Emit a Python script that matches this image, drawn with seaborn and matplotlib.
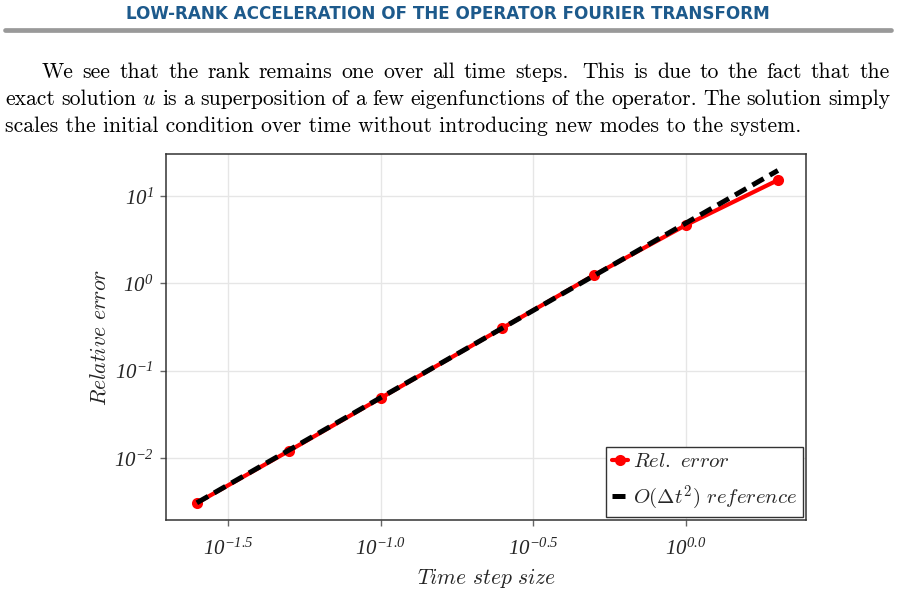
import matplotlib
matplotlib.use('Agg')
import matplotlib.pyplot as plt
import seaborn as sns
import pandas as pd
import numpy as np
from matplotlib.lines import Line2D

# data
time_step = [0.025, 0.05, 0.1, 0.25, 0.5, 1.0, 2.0]
rel_error = [0.00304, 0.0120, 0.0485, 0.306, 1.24, 4.65, 15.2]
ref_order2 = [0.00306, 0.01225, 0.049, 0.306, 1.225, 4.9, 19.6]

xtick_pos = [10 ** -1.5, 10 ** -1.0, 10 ** -0.5, 10 ** 0.0]
xtick_lab = [r'$10^{-1.5}$', r'$10^{-1.0}$', r'$10^{-0.5}$', r'$10^{0.0}$']
ytick_pos = [1e-2, 1e-1, 1e0, 1e1]
ytick_lab = [r'$10^{-2}$', r'$10^{-1}$', r'$10^{0}$', r'$10^{1}$']

header = 'LOW-RANK ACCELERATION OF THE OPERATOR FOURIER TRANSFORM'
para_lines = [
    'We see that the rank remains one over all time steps.  This is due to the fact that the',
    r'exact solution $u$ is a superposition of a few eigenfunctions of the operator. The solution simply',
    'scales the initial condition over time without introducing new modes to the system.',
]

sns.set_theme(style='whitegrid')
plt.rcParams['font.family'] = ['cmr10', 'DejaVu Serif']
plt.rcParams['mathtext.fontset'] = 'cm'
plt.rcParams['axes.formatter.use_mathtext'] = True
# italic digits for the tick labels go through the "custom" math font set
plt.rcParams['mathtext.rm'] = 'Liberation Serif:italic'
plt.rcParams['mathtext.it'] = 'Liberation Serif:italic'

W, H = 898, 596
fig = plt.figure(figsize=(W / 100, H / 100), dpi=100)
fig.patch.set_facecolor('white')

# page header
fig.text(448 / W, 1 - 14 / H, header, ha='center', va='center', color='#1d5a8c',
         fontsize=12.1, fontweight='bold', family=['Liberation Sans Narrow', 'DejaVu Sans'])
fig.add_artist(Line2D([5 / W, 891 / W], [1 - 30 / H, 1 - 30 / H], color='#999999', lw=3.4))

# paragraph, justified by hand
renderer = fig.canvas.get_renderer()
para_kw = dict(fontsize=15.6, va='baseline', color='black')


def justify(words, x0, x1, ybase, extra=None):
    texts = [fig.text(0, 1 - ybase / H, w, **para_kw) for w in words]
    widths = [t.get_window_extent(renderer).width for t in texts]
    extra = extra or {}
    gap = (x1 - x0 - sum(widths) - sum(extra.values())) / (len(words) - 1)
    x = x0
    for i, (t, w) in enumerate(zip(texts, widths)):
        t.set_x(x / W)
        x += w + gap + extra.get(i, 0)


# a little wider sentence space after "steps."
justify(para_lines[0].split(), 42, 890, 78, extra={10: 5})
justify(para_lines[1].split(), 5, 890, 105)
fig.text(5 / W, 1 - 132 / H, para_lines[2], **para_kw)

# chart
ax = fig.add_axes([166 / W, 1 - 520 / H, 640 / W, 366 / H])
sns.lineplot(x=time_step, y=rel_error, ax=ax, color='red', lw=3.0, marker='o',
             markersize=8, markeredgewidth=0, label=r'$\mathit{Rel.\ error}$')
sns.lineplot(x=time_step, y=ref_order2, ax=ax, color='black', lw=3.6,
             label=r'$\mathit{O(\Delta t^2)\ reference}$')
ax.lines[1].set_dashes((2.6, 1.4))

ax.set_xscale('log')
ax.set_yscale('log')
ax.set_xlim(10 ** -1.703, 10 ** 0.393)
ax.set_ylim(10 ** -2.711, 10 ** 1.481)
ax.set_xticks(xtick_pos, xtick_lab)
ax.set_yticks(ytick_pos, ytick_lab)
ax.minorticks_off()
for lab in ax.get_xticklabels() + ax.get_yticklabels():
    lab.set_math_fontfamily('custom')
ax.tick_params(axis='both', which='major', length=4, width=1, color='#666666',
               labelsize=15, pad=5, bottom=True, left=True)
ax.tick_params(axis='x', pad=9)
ax.grid(True, color='#e6e6e6', lw=1)
for s in ax.spines.values():
    s.set_color('#333333')
    s.set_linewidth(1.1)
ax.set_xlabel(r'$\mathit{Time\ step\ size}$', fontsize=15.5, labelpad=5)
ax.set_ylabel(r'$\mathit{Relative\ error}$', fontsize=15.5, labelpad=3)

leg = ax.legend(loc='lower right', fontsize=15, handlelength=0.8, handletextpad=0.25,
                borderpad=0.25, labelspacing=0.6, fancybox=False, framealpha=1,
                edgecolor='#333333', borderaxespad=0.15)
leg.get_frame().set_linewidth(1.0)

fig.savefig('out.png', dpi=100)
